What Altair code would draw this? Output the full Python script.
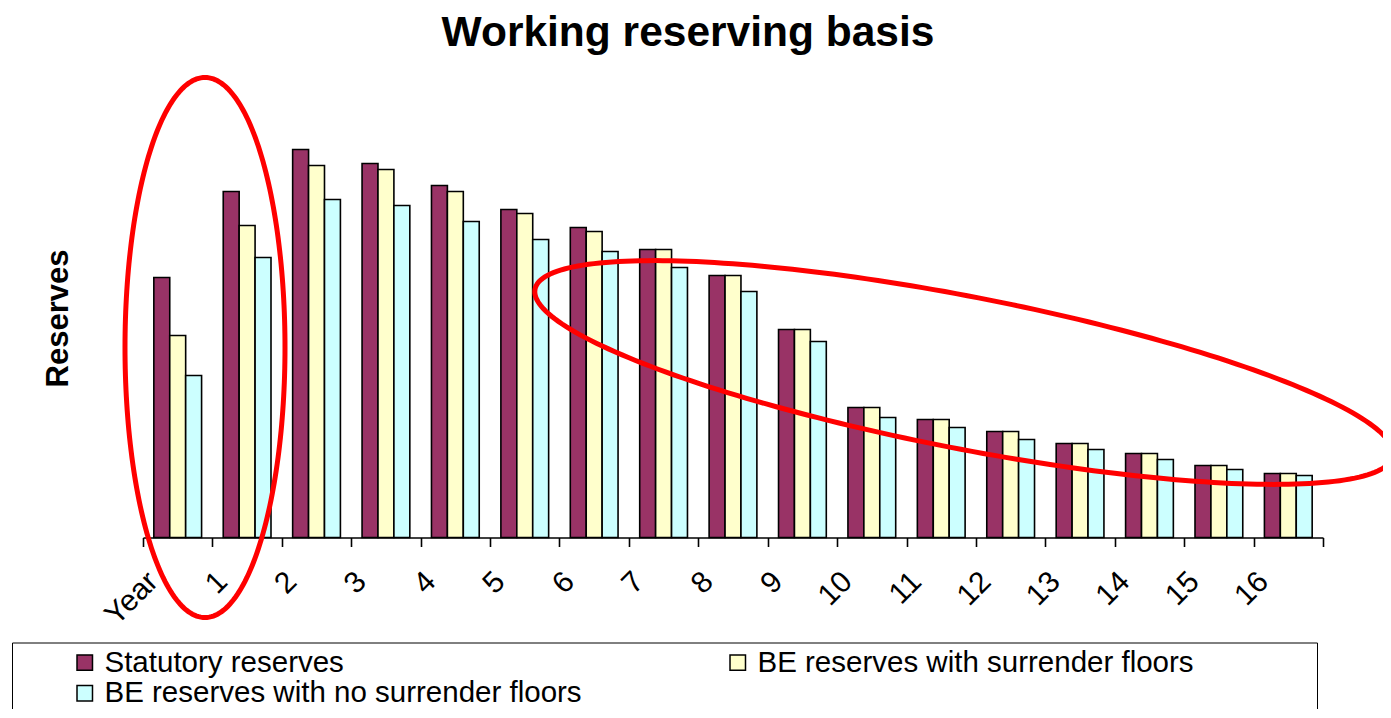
import altair as alt
import pandas as pd
import numpy as np

categories = ["Year", "1", "2", "3", "4", "5", "6", "7", "8", "9", "10",
              "11", "12", "13", "14", "15", "16"]
series_names = ["Statutory reserves", "BE reserves with surrender floors",
                "BE reserves with no surrender floors"]
series_colors = ["#993366", "#FFFFCC", "#CCFFFF"]

statutory = [260, 346, 388, 374, 352, 328, 310, 288, 262, 208, 130, 118, 106, 94, 84, 72, 64]
be_floors = [202, 312, 372, 368, 346, 324, 306, 288, 262, 208, 130, 118, 106, 94, 84, 72, 64]
be_no_floors = [162, 280, 338, 332, 316, 298, 286, 270, 246, 196, 120, 110, 98, 88, 78, 68, 62]

# annotation ellipses (plot-pixel units: x from plot left, y up from baseline)
ell_cx = [62, 821]
ell_cy = [190, 165]
ell_a = [80, 437]
ell_b = [270, 76]
ell_tilt_deg = [0, -11]

W = 1180
H = 439

rows = []
for i, c in enumerate(categories):
    for s, vals in zip(series_names, [statutory, be_floors, be_no_floors]):
        rows.append({"category": c, "series": s, "value": vals[i]})
bars_df = pd.DataFrame(rows)

erows = []
t = np.linspace(0, 2 * np.pi, 241)
for k in range(len(ell_cx)):
    th = np.deg2rad(ell_tilt_deg[k])
    ex = ell_a[k] * np.cos(t)
    ey = ell_b[k] * np.sin(t)
    xs = ell_cx[k] + ex * np.cos(th) - ey * np.sin(th)
    ys = ell_cy[k] + ex * np.sin(th) + ey * np.cos(th)
    for j in range(len(t)):
        erows.append({"e": k, "i": j, "px": xs[j], "py": ys[j]})
ell_df = pd.DataFrame(erows)

FONT = "Liberation Sans"

bars = alt.Chart(bars_df).mark_bar(stroke="black", strokeWidth=1.6).encode(
    x=alt.X("category:N", sort=categories, title=None,
            scale=alt.Scale(paddingInner=0, paddingOuter=0),
            axis=alt.Axis(labelAngle=-45, labelAlign="right", labelBaseline="middle",
                          labelFontSize=30, labelFont=FONT, labelColor="black",
                          labelOffset=-25, labelPadding=30,
                          tickBand="extent", tickSize=9, tickColor="black", tickWidth=1.6,
                          domainColor="black", domainWidth=1.6, grid=False)),
    xOffset=alt.XOffset("series:N", sort=series_names,
                        scale=alt.Scale(paddingInner=0, paddingOuter=0.68)),
    y=alt.Y("value:Q", scale=alt.Scale(domain=[0, H], nice=False, zero=True),
            axis=alt.Axis(title="Reserves", labels=False, ticks=False, domain=False,
                          grid=False, titleFontSize=31, titleFont=FONT,
                          titleFontWeight="bold", titleColor="black", titlePadding=69)),
    color=alt.Color("series:N", sort=series_names,
                    scale=alt.Scale(domain=series_names, range=series_colors),
                    legend=alt.Legend(title=" ", titleOrient="right", titleFontSize=1,
                                      titlePadding=118,
                                      orient="none", legendX=-131, legendY=544,
                                      columns=2, direction="horizontal",
                                      symbolType="square", symbolSize=240,
                                      symbolStrokeColor="black", symbolStrokeWidth=1.5,
                                      symbolOffset=53, labelOffset=5,
                                      labelFontSize=29.5, labelFont=FONT, labelColor="black",
                                      labelLimit=0, columnPadding=88, rowPadding=0,
                                      padding=5, strokeColor="black",
                                      gridAlign="all")),
)

ellipses = alt.Chart(ell_df).mark_line(color="#FF0000", strokeWidth=5).encode(
    x=alt.X("px:Q", scale=alt.Scale(domain=[0, W], nice=False, zero=False), axis=None),
    y=alt.Y("py:Q", scale=alt.Scale(domain=[0, H], nice=False, zero=False), axis=None),
    detail="e:N",
    order="i:Q",
)

chart = alt.layer(bars, ellipses).resolve_scale(
    x="independent", y="independent"
).properties(
    width=W, height=H,
    autosize=alt.AutoSizeParams(type="none"),
    padding={"left": 135, "top": 90.5, "right": 60, "bottom": 171},
    title=alt.TitleParams("Working reserving basis", fontSize=42.5, font=FONT,
                          fontWeight="bold", color="black", anchor="middle",
                          dx=-45, offset=13),
).configure_view(stroke=None)

chart.save("out.html", embed_options={"renderer": "svg", "actions": False})
